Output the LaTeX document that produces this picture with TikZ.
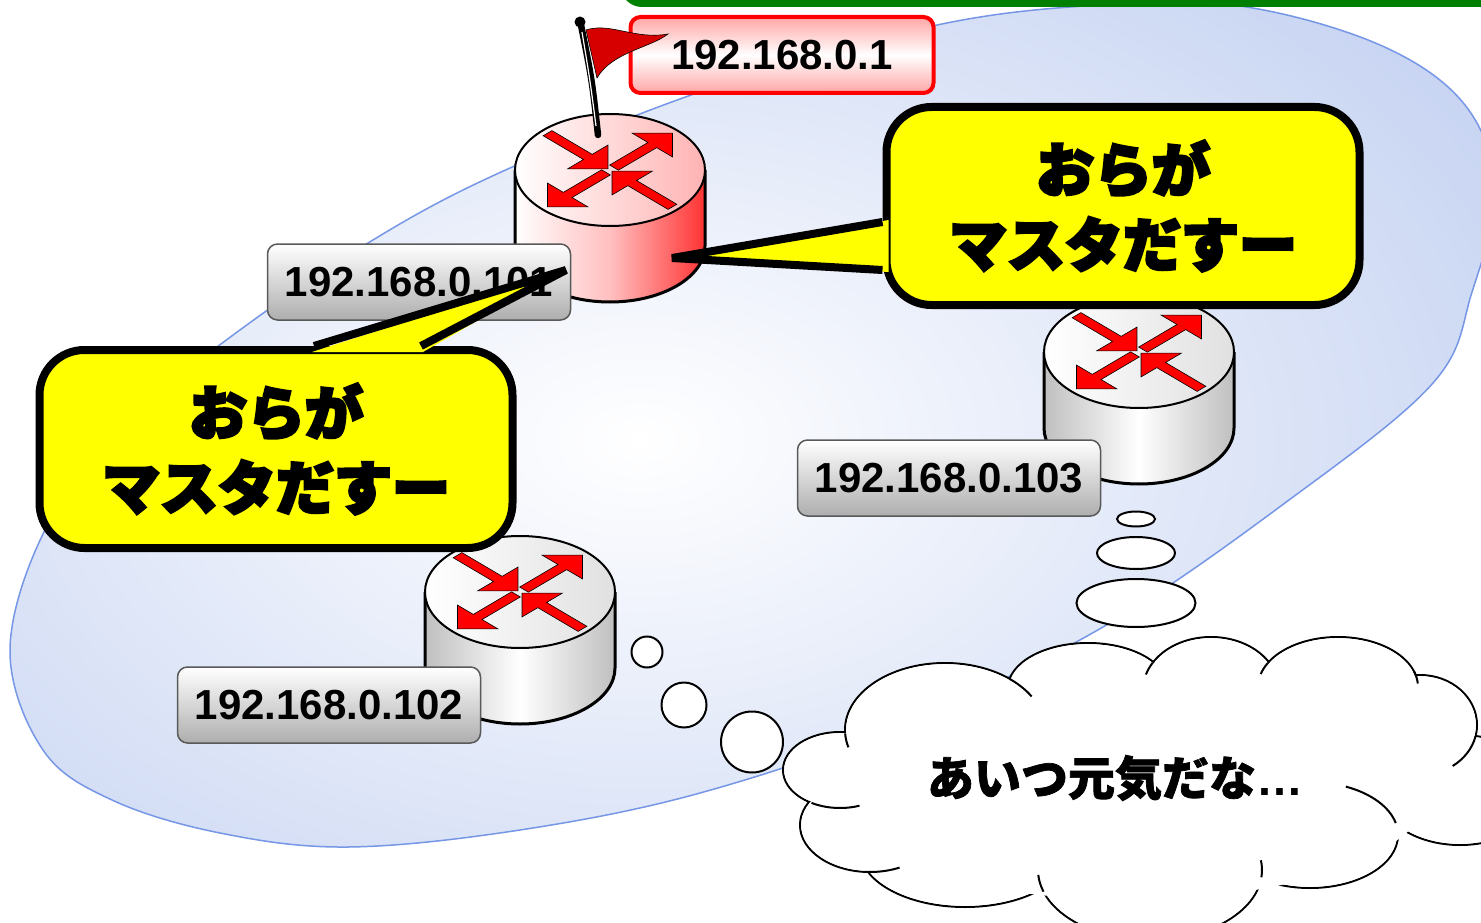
\documentclass[tikz,border=0pt]{standalone}
\usepackage{fontspec}
\usepackage{tikz}
\usetikzlibrary{shapes.geometric, calc}
\newfontfamily\ipfont{Liberation Sans}
\newfontfamily\jpfont{Noto Sans CJK JP}[BoldFeatures={FakeBold=1.5}]
\newfontfamily\jpheavy{Noto Sans CJK JP}[BoldFeatures={FakeBold=5}]
\definecolor{netblue}{RGB}{199, 212, 242}
\definecolor{netedge}{RGB}{118, 150, 230}
\definecolor{masterred}{RGB}{255, 0, 0}
\definecolor{flagred}{RGB}{215, 0, 0}
\definecolor{sayyellow}{RGB}{255, 255, 0}
\definecolor{framegreen}{RGB}{0, 128, 0}

% router: centre x, top-face centre y, body shading, top shading
\newcommand{\router}[4]{%
  \shade[#3] (#1-95,#2) -- (#1-95,#2+76) arc[start angle=180, end angle=0, x radius=95, y radius=56] -- (#1+95,#2) -- cycle;
  \draw[line width=3] (#1-95,#2) -- (#1-95,#2+76) arc[start angle=180, end angle=0, x radius=95, y radius=56] -- (#1+95,#2);
  \shadedraw[#4, line width=2] (#1,#2) ellipse[x radius=95, y radius=56];
  \begin{scope}[shift={(#1,#2)}, xscale=95, yscale=56]
    \foreach \a/\s/\e in {45/0.06/0.93, -135/0.06/0.93, -45/-0.93/-0.03, 135/-0.93/-0.03}
      \draw[arw, rotate=\a] (\s,-0.065) -- ({\e-0.3},-0.065) -- ({\e-0.3},-0.3) -- (\e,0)
        -- ({\e-0.3},0.3) -- ({\e-0.3},0.065) -- (\s,0.065) -- cycle;
  \end{scope}
}

\def\netblob{plot[smooth cycle, tension=0.6] coordinates {(10,650) (45,530) (120,430) (217,347) (368,243)
  (510,168) (720,85) (937,25) (1100,5) (1240,6) (1380,45) (1465,105) (1495,190) (1472,292) (1433,383)
  (1289,500) (1103,627) (900,725) (700,793) (520,830) (348,847) (220,833) (112,800) (43,750)}}

% cloud puffs: centre x / centre y / x radius / y radius
\def\puffs{840/770/57/38, 870/825/70/47, 965/850/105/57, 1150/870/112/70, 1310/835/88/53,
  1460/790/82/55, 1420/725/57/50, 1338/687/80/50, 1211/690/68/53, 1088/688/80/45, 945/730/100/67}

\begin{document}
\begin{tikzpicture}[x=1pt, y=-1pt,
  arw/.style={fill=masterred, draw=black, line width=0.6},
  iplabel/.style={draw=black!65, line width=1.5, rounded corners=10, top color=white, bottom color=black!32,
    minimum width=303, minimum height=76, inner sep=0, font=\ipfont\bfseries\fontsize{42}{46}\selectfont},
  masterlabel/.style={iplabel, draw=masterred, line width=4, top color=red!35, bottom color=red!35, middle color=white},
  saybox/.style={draw=black, line width=8, fill=sayyellow, rounded corners=45, minimum width=473,
    minimum height=198, align=center, font=\jpheavy\bfseries\fontsize{58}{75}\selectfont},
  thought/.style={ellipse, draw=black, line width=2, fill=white, inner sep=0},
  puffline/.style={draw=black, line width=2}
]
  \path[use as bounding box] (0,0) rectangle (1481,923);
  \clip (0,0) rectangle (1481,923);

  % Network area
  \fill[netblue] \netblob;
  \begin{scope}
    \clip \netblob;
    \shade[inner color=white, outer color=netblue] (640,440) ellipse[x radius=1000, y radius=640];
  \end{scope}
  \draw[netedge, line width=1.5] \netblob;

  \draw[framegreen, line width=7, rounded corners=18, fill=white] (624,-60) rectangle (1520,3.5);

  % Routers
  \router{610}{170}{left color=white, right color=red!80, middle color=red!25}{left color=white, right color=red!30}
  \router{520}{592}{left color=black!25, right color=black!25, middle color=white}{left color=white, right color=black!12}
  \router{1139}{352}{left color=black!25, right color=black!25, middle color=white}{left color=white, right color=black!12}

  % Addresses
  \node[masterlabel] (ip1) at (782,55) {192.168.0.1};
  \node[iplabel] (ip101) at (419,282) {192.168.0.101};
  \node[iplabel] (ip102) at (329,705) {192.168.0.102};
  \node[iplabel] (ip103) at (949,478) {192.168.0.103};

  % Flag on the master
  \draw[line width=6.5, line cap=round] (598,135) .. controls (592,80) .. (581,25);
  \draw[white, line width=1.2] (596,126) .. controls (590,80) .. (582,32);
  \fill (580,22) circle[radius=5.5];
  \fill[flagred, draw=black, line width=0.6] (586,30) .. controls (610,22) and (635,40) .. (668,34)
    .. controls (650,48) and (612,52) .. (597,78) -- cycle;

  % Speech balloons
  \coordinate (tipR) at (672,258);
  \coordinate (tipL) at (566,270);
  \node[saybox] (mstR) at (1123,206) {おらが\\マスタだすー};
  \fill[sayyellow] ($(mstR.west)+(6,14)$) -- (tipR) -- ($(mstR.west)+(6,66)$) -- cycle;
  \draw[line width=8, line join=bevel] ($(mstR.west)+(0,16)$) -- (tipR) -- ($(mstR.west)+(0,64)$);

  \node[saybox] (mstL) at (276,449) {おらが\\マスタだすー};
  \fill[sayyellow] ($(mstL.north)+(36,6)$) -- (tipL) -- ($(mstL.north)+(147,6)$) -- cycle;
  \draw[line width=8, line join=bevel] ($(mstL.north)+(38,0)$) -- (tipL) -- ($(mstL.north)+(145,0)$);

  % Thought bubbles
  \node[thought, minimum width=31, minimum height=31] (b1) at (647,652) {};
  \node[thought, minimum width=45, minimum height=45] (b2) at (684,705) {};
  \node[thought, minimum width=62, minimum height=61] (b3) at (752,742) {};
  \node[thought, minimum width=38, minimum height=15] (b4) at (1136,519) {};
  \node[thought, minimum width=78, minimum height=32] (b5) at (1136,553) {};
  \node[thought, minimum width=119, minimum height=48] (b6) at (1136,603) {};

  % Cloud: outlined puffs, then white inside, then the short inner arcs
  \foreach \cx/\cy/\rx/\ry in \puffs
    \filldraw[puffline, fill=white] (\cx,\cy) ellipse[x radius=\rx, y radius=\ry];
  \foreach \cx/\cy/\rx/\ry in \puffs
    \fill[white] (\cx,\cy) ellipse[x radius=\rx-1.2, y radius=\ry-1.2];
  \fill[white] (1130,790) ellipse[x radius=300, y radius=110];
  \foreach \cx/\cy/\rx/\ry/\a/\b in {840/770/57/38/120/70, 945/730/100/67/177/165, 945/730/100/67/-50/-30,
      1211/690/68/53/-149/-163, 1338/687/80/50/-151/-165, 1338/687/80/50/-18/-4, 1420/725/57/50/13/55,
      1310/835/88/53/-13/-66, 1150/870/112/70/6/-8, 1150/870/112/70/162/176, 870/825/70/47/92/65}
    \draw[puffline] (\cx,\cy) ++({\a}:{\rx} and {\ry}) arc[start angle=\a, end angle=\b, x radius=\rx, y radius=\ry];
  \node[font=\jpfont\bfseries\fontsize{47}{50}\selectfont] (think) at (1115,778) {あいつ元気だな{\ipfont\bfseries …}};
\end{tikzpicture}
\end{document}
